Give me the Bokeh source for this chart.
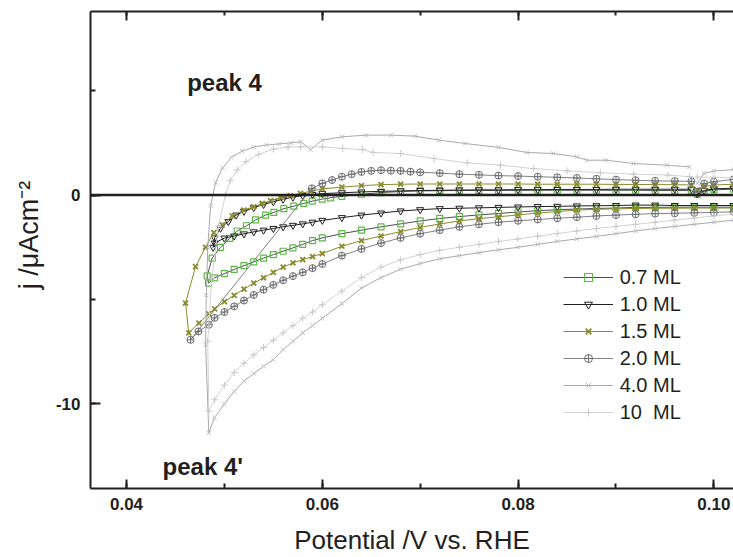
from bokeh.plotting import figure
from bokeh.models import (Range1d, LinearAxis, SingleIntervalTicker, PrintfTickFormatter,
                          Span, Label, Legend, LegendItem, CustomLabelingPolicy)
from bokeh.embed import file_html
from bokeh.resources import INLINE

FONT = "Liberation Sans"
INK = "#231f20"

# ---------------- data (potential in V, current density in uA cm^-2) ----------------
x_start = [0.0983, 0.099, 0.100, 0.102, 0.104]
x_low = [0.104, 0.102, 0.100, 0.098, 0.096, 0.094, 0.092, 0.090, 0.088, 0.086, 0.084,
         0.082, 0.080, 0.078, 0.076, 0.074, 0.072, 0.070, 0.068, 0.066, 0.064, 0.062,
         0.060, 0.059, 0.058, 0.057, 0.056, 0.055, 0.054, 0.053, 0.052, 0.051, 0.050, 0.049]
x_up = [0.062, 0.064, 0.066, 0.068, 0.070, 0.072, 0.074, 0.076, 0.078, 0.080, 0.082,
        0.084, 0.086, 0.088, 0.090, 0.092, 0.094, 0.096]
x_end = [0.0977]

# 0.7 ML
j07_start = [0.05, 0.18, 0.25, 0.28, 0.29]
j07_low = [-0.58, -0.58, -0.58, -0.58, -0.58, -0.59, -0.59, -0.62, -0.64, -0.67, -0.70,
           -0.75, -0.81, -0.88, -0.95, -1.03, -1.12, -1.24, -1.38, -1.52, -1.68, -1.85,
           -2.05, -2.18, -2.36, -2.53, -2.69, -2.85, -3.02, -3.20, -3.38, -3.56, -3.76, -3.96]
x07_turn = [0.04838, 0.04824, 0.04875, 0.0496, 0.05055, 0.05131, 0.05226, 0.05318, 0.0542,
            0.05505, 0.05607, 0.05709, 0.05811, 0.05897, 0.05999, 0.06083]
j07_turn = [-4.22, -3.87, -3.02, -2.50, -2.07, -1.72, -1.47, -1.19, -0.96,
            -0.83, -0.65, -0.53, -0.40, -0.29, -0.19, -0.13]
j07_up = [-0.06, 0.04, 0.12, 0.17, 0.20, 0.21, 0.22, 0.22, 0.22, 0.23, 0.23, 0.23, 0.23,
          0.23, 0.23, 0.23, 0.22, 0.22]
j07_end = [0.22]

# 1.0 ML
j10_start = [0.05, 0.22, 0.30, 0.33, 0.34]
j10_low = [-0.50, -0.50, -0.50, -0.50, -0.50, -0.48, -0.48, -0.50, -0.51, -0.52, -0.54,
           -0.55, -0.57, -0.59, -0.61, -0.63, -0.65, -0.70, -0.76, -0.86, -0.96, -1.08,
           -1.21, -1.30, -1.38, -1.45, -1.52, -1.60, -1.68, -1.76, -1.86, -1.96, -2.06, -2.30]
x10_turn = [0.04885, 0.0490, 0.0496, 0.0504, 0.0512, 0.0520, 0.053, 0.054, 0.055, 0.056,
            0.057, 0.058, 0.059, 0.060]
j10_turn = [-2.50, -2.05, -1.59, -1.27, -0.96, -0.78, -0.60, -0.45, -0.32, -0.20,
            -0.10, -0.02, 0.03, 0.07]
j10_up = [0.11, 0.15, 0.18, 0.20, 0.22, 0.23, 0.24, 0.25, 0.25, 0.26, 0.26, 0.27, 0.27,
          0.27, 0.28, 0.28, 0.28, 0.28]
j10_end = [0.28]

# 1.5 ML
j15_start = [0.25, 0.40, 0.48, 0.52, 0.53]
j15_low = [-0.62, -0.62, -0.62, -0.62, -0.63, -0.63, -0.64, -0.66, -0.68, -0.72, -0.79,
           -0.86, -0.95, -1.04, -1.13, -1.24, -1.38, -1.55, -1.75, -1.96, -2.18, -2.45,
           -2.80, -2.95, -3.09, -3.25, -3.45, -3.70, -3.96, -4.22, -4.50, -4.80, -5.10, -5.45]
x15_turn = [0.0484, 0.0474, 0.04636, 0.04603, 0.04705, 0.04807, 0.04892, 0.04978, 0.0508,
            0.05198, 0.053, 0.05386, 0.05471, 0.05573, 0.05675, 0.05777, 0.0588, 0.060]
j15_turn = [-5.69, -6.13, -6.60, -5.17, -3.43, -2.50, -1.80, -1.43, -1.00,
            -0.72, -0.56, -0.40, -0.27, -0.11, -0.02, 0.08, 0.18, 0.30]
j15_up = [0.38, 0.45, 0.50, 0.52, 0.53, 0.53, 0.53, 0.53, 0.53, 0.53, 0.52, 0.52, 0.52,
          0.52, 0.51, 0.51, 0.50, 0.50]
j15_end = [0.48]

# 2.0 ML
j20_start = [0.16, 0.55, 0.64, 0.75, 0.78]
j20_low = [-0.78, -0.80, -0.83, -0.85, -0.87, -0.89, -0.92, -0.96, -1.00, -1.06, -1.11,
           -1.17, -1.23, -1.30, -1.40, -1.52, -1.68, -1.85, -2.05, -2.30, -2.58, -2.90,
           -3.30, -3.50, -3.70, -3.88, -4.08, -4.30, -4.53, -4.78, -5.05, -5.33, -5.60, -5.88]
x20_turn = [0.04841, 0.04735, 0.04654, 0.05893, 0.0600, 0.0610, 0.0620, 0.0630, 0.0640,
            0.0650, 0.0660, 0.0670, 0.0680, 0.0690, 0.0700]
j20_turn = [-6.21, -6.53, -6.93, 0.32, 0.56, 0.72, 0.88, 1.00, 1.11,
            1.16, 1.19, 1.17, 1.16, 1.12, 1.09]
x20_up = [0.072, 0.074, 0.076, 0.078, 0.080, 0.082, 0.084, 0.086, 0.088, 0.090, 0.092,
          0.094, 0.096]
j20_up = [1.05, 1.00, 0.97, 0.93, 0.91, 0.88, 0.85, 0.82, 0.78, 0.74, 0.71, 0.68, 0.67]
j20_end = [0.66]

# 4.0 ML
j40_start = [0.56, 1.04, 1.15, 1.22, 1.24]
j40_low = [-1.15, -1.20, -1.30, -1.40, -1.50, -1.60, -1.72, -1.85, -1.98, -2.10, -2.22,
           -2.36, -2.50, -2.62, -2.76, -2.90, -3.05, -3.28, -3.55, -3.95, -4.45, -5.20,
           -5.90, -6.25, -6.60, -7.00, -7.40, -7.88, -8.20, -8.55, -8.90, -9.40, -10.00, -10.65]
x40_turn = [0.04841, 0.04808, 0.04815, 0.0483, 0.0486, 0.0491, 0.0498, 0.0507, 0.0518,
            0.0530, 0.0543, 0.0556, 0.0568, 0.0578, 0.0588, 0.0600, 0.0620, 0.0645, 0.0670,
            0.0695, 0.0719, 0.0746, 0.0780, 0.0809, 0.0836, 0.0860, 0.0870, 0.0890, 0.0918,
            0.0952, 0.0975]
j40_turn = [-11.39, -7.17, -4.80, -2.50, -0.50, 0.60, 1.30, 1.80, 2.10,
            2.30, 2.40, 2.45, 2.50, 2.55, 2.18, 2.63, 2.79, 2.87, 2.87,
            2.82, 2.63, 2.47, 2.28, 2.04, 1.99, 1.83, 1.67, 1.67, 1.51,
            1.43, 1.35]

# 10 ML
x100_start = [0.0983, 0.100, 0.102, 0.104]
j100_start = [0.86, 0.85, 0.83, 0.82]
j100_low = [-0.85, -0.90, -1.00, -1.10, -1.20, -1.30, -1.40, -1.50, -1.60, -1.72, -1.84,
            -1.97, -2.10, -2.22, -2.36, -2.50, -2.65, -2.85, -3.10, -3.45, -3.95, -4.60,
            -5.25, -5.60, -5.90, -6.25, -6.60, -6.95, -7.30, -7.65, -8.05, -8.50, -9.10, -9.80]
x100_turn = [0.04841, 0.0483, 0.0487, 0.0494, 0.0501, 0.0506, 0.0513, 0.0522, 0.0535,
             0.0550, 0.0565, 0.0578, 0.0600, 0.0621, 0.0641, 0.0652, 0.0680, 0.0714,
             0.0748, 0.0782, 0.0816, 0.0850, 0.0884, 0.0918, 0.0953, 0.0975]
j100_turn = [-10.35, -7.00, -4.00, -1.50, 0.00, 0.70, 1.20, 1.60, 1.95,
             2.20, 2.30, 2.31, 2.31, 2.23, 2.18, 2.04, 1.99, 1.75,
             1.54, 1.43, 1.27, 1.16, 1.07, 1.00, 0.96, 0.88]

labels = ["0.7 ML", "1.0 ML", "1.5 ML", "2.0 ML", "4.0 ML", "10  ML"]

series = [
    (x_start + x_low + x07_turn + x_up + x_end, j07_start + j07_low + j07_turn + j07_up + j07_end),
    (x_start + x_low + x10_turn + x_up + x_end, j10_start + j10_low + j10_turn + j10_up + j10_end),
    (x_start + x_low + x15_turn + x_up + x_end, j15_start + j15_low + j15_turn + j15_up + j15_end),
    (x_start + x_low + x20_turn + x20_up + x_end, j20_start + j20_low + j20_turn + j20_up + j20_end),
    (x_start + x_low + x40_turn, j40_start + j40_low + j40_turn),
    (x100_start + x_low + x100_turn, j100_start + j100_low + j100_turn),
]

styles = [
    dict(line="#4d4d4f", marker="square", mcolor="#5cb946", size=6, mw=1.2),
    dict(line="#231f20", marker="inverted_triangle", mcolor="#231f20", size=7, mw=1.0),
    dict(line="#8a8a2e", marker="x", mcolor="#8a8a2e", size=7, mw=1.8),
    dict(line="#808285", marker="circle_cross", mcolor="#6d6e71", size=7, mw=1.0),
    dict(line="#a7a9ac", marker="x", mcolor="#bcbec0", size=6, mw=1.0),
    dict(line="#d1d3d4", marker="cross", mcolor="#c7c8ca", size=7, mw=1.0),
]

# ---------------- figure ----------------
p = figure(width=733, height=557, output_backend="svg", toolbar_location=None,
           x_range=Range1d(0.036323, 0.102002), y_range=Range1d(-14.05, 8.79),
           min_border_left=90, min_border_right=0, min_border_top=11,
           min_border_bottom=68)
p.outline_line_color = None
p.grid.grid_line_color = None
p.background_fill_color = "white"

xticker = SingleIntervalTicker(interval=0.02, num_minor_ticks=2)
yticker = SingleIntervalTicker(interval=10, num_minor_ticks=2)

xa = p.xaxis[0]
xa.ticker = xticker
xa.formatter = PrintfTickFormatter(format="%.2f")
xa.axis_label = "Potential /V vs. RHE"
xa.axis_label_standoff = 12
ya = p.yaxis[0]
ya.ticker = yticker
ya.formatter = PrintfTickFormatter(format="%d")
ya.axis_label = "\u00a0\u00a0\u00a0\u00a0j /\u03bcAcm\u207b\u00b2"
ya.axis_label_standoff = 9
for ax, tin, stand in ((xa, 9, 9), (ya, 10, 10)):
    ax.axis_line_color = INK
    ax.axis_line_width = 2
    ax.major_tick_line_color = INK
    ax.minor_tick_line_color = INK
    ax.major_tick_line_width = 2
    ax.minor_tick_line_width = 2
    ax.major_tick_in = tin
    ax.major_tick_out = 0
    ax.minor_tick_in = 5
    ax.minor_tick_out = 0
    ax.major_label_standoff = stand
    ax.major_label_text_font = FONT
    ax.major_label_text_font_style = "bold"
    ax.major_label_text_font_size = "17px"
    ax.major_label_text_color = INK
    ax.axis_label_text_font = FONT
    ax.axis_label_text_font_style = "normal"
    ax.axis_label_text_color = INK
xa.axis_label_text_font_size = "26px"
ya.axis_label_text_font_size = "27px"

no_labels = CustomLabelingPolicy(code="for (const i of indices) indices.unset(i); return indices")
top = LinearAxis(ticker=xticker, major_label_policy=no_labels, major_label_standoff=0,
                 axis_line_color=INK, axis_line_width=2, major_tick_line_color=INK,
                 minor_tick_line_color=INK, major_tick_line_width=2, minor_tick_line_width=2,
                 major_tick_in=9, major_tick_out=0, minor_tick_in=4, minor_tick_out=0)
p.add_layout(top, "above")

p.add_layout(Span(location=0, dimension="width", line_color=INK, line_width=2.5))

items = []
for (xs, js), st, lab in zip(series, styles, labels):
    r1 = p.line(xs, js, line_color=st["line"], line_width=1)
    r2 = p.scatter(xs, js, marker=st["marker"], size=st["size"], line_color=st["mcolor"],
                   fill_color=None, line_width=st["mw"])
    items.append(LegendItem(label=lab, renderers=[r1, r2]))

legend = Legend(items=items, location=(472.7, 64.5), border_line_color=None,
                background_fill_alpha=0, label_text_font=FONT, label_text_font_size="20px",
                label_text_color=INK, glyph_width=50, glyph_height=20, label_height=20,
                label_standoff=7, spacing=4, padding=0, margin=0)
p.add_layout(legend, "center")

p.add_layout(Label(x=0.0462, y=5.41, text="peak 4", text_font=FONT, text_font_style="bold",
                   text_font_size="24px", text_color=INK, text_baseline="alphabetic"))
p.add_layout(Label(x=0.04368, y=-13.02, text="peak 4'", text_font=FONT, text_font_style="bold",
                   text_font_size="24px", text_color=INK, text_baseline="alphabetic"))

open("out.html", "w").write(file_html(p, INLINE))
